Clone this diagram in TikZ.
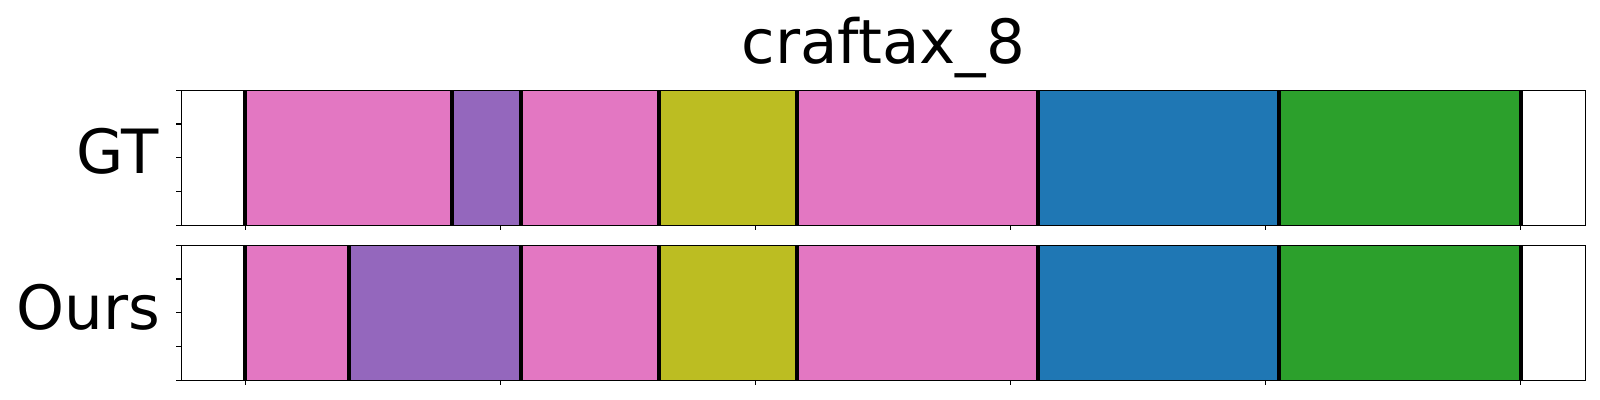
\documentclass[tikz,border=0pt]{standalone}
\usepackage{fontspec}
\setmainfont{DejaVu Sans}
\definecolor{tpink}{HTML}{E377C2}
\definecolor{tpurple}{HTML}{9467BD}
\definecolor{tolive}{HTML}{BCBD22}
\definecolor{tblue}{HTML}{1F77B4}
\definecolor{tgreen}{HTML}{2CA02C}
\begin{document}
\begin{tikzpicture}[x=0.5pt,y=-0.5pt,
  axframe/.style={draw=black,line width=0.6pt},
  segline/.style={draw=black,line width=2pt},
  tickline/.style={draw=black,line width=0.55pt},
  biglabel/.style={inner sep=0pt,font=\fontsize{30.5pt}{36pt}\selectfont}]
\useasboundingbox (0,0) rectangle (1600,400);
% title
\node[biglabel,anchor=base] (title) at (883.5,63.3) {craftax\_8};
% row labels
\node[biglabel,anchor=base east] (gt) at (159.5,174) {GT};
\node[biglabel,anchor=base east] (ours) at (160.5,330) {Ours};
% GT segments
\foreach \a/\b/\c in {0/6/tpink,6/8/tpurple,8/12/tpink,12/16/tolive,16/23/tpink,23/30/tblue,30/37/tgreen}
  \fill[\c] ({245.3+34.47*\a},90.3) rectangle ({245.3+34.47*\b},225.3);
% Ours segments
\foreach \a/\b/\c in {0/3/tpink,3/8/tpurple,8/12/tpink,12/16/tolive,16/23/tpink,23/30/tblue,30/37/tgreen}
  \fill[\c] ({245.3+34.47*\a},245.3) rectangle ({245.3+34.47*\b},380.3);
% boundaries
\foreach \k in {0,6,8,12,16,23,30,37}
  \draw[segline] ({245.3+34.47*\k},90.3) -- ++(0,135);
\foreach \k in {0,3,8,12,16,23,30,37}
  \draw[segline] ({245.3+34.47*\k},245.3) -- ++(0,135);
% frames
\draw[axframe] (181.3,90.3) rectangle (1585.7,225.3);
\draw[axframe] (181.3,245.3) rectangle (1585.7,380.3);
% ticks
\foreach \i in {0,...,4} {
  \draw[tickline] (181.3,{90.3+33.75*\i}) -- ++(-4.9,0);
  \draw[tickline] (181.3,{245.3+33.75*\i}) -- ++(-4.9,0);
}
\foreach \j in {0,...,5} {
  \draw[tickline] ({245.3+255.08*\j},225.3) -- ++(0,4.9);
  \draw[tickline] ({245.3+255.08*\j},380.3) -- ++(0,4.9);
}
\end{tikzpicture}
\end{document}
